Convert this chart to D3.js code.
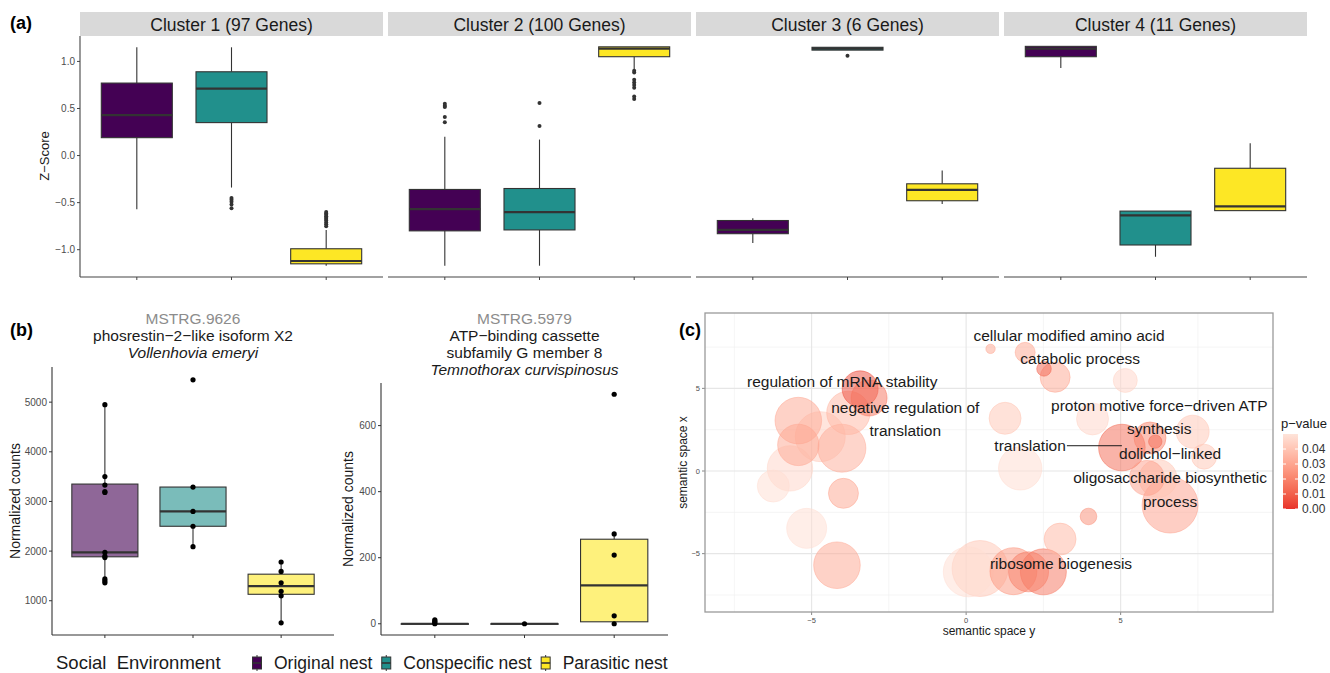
<!DOCTYPE html>
<html>
<head>
<meta charset="utf-8">
<script src="https://cdn.jsdelivr.net/npm/d3@7"></script>
<style>
  body { margin: 0; background: #fff; }
  svg { display: block; font-family: "Liberation Sans", Arial, sans-serif; }
</style>
</head>
<body>
<svg id="fig" width="1330" height="673"></svg>
<script>
// ---------- data ----------
const groups = ["Original nest", "Conspecific nest", "Parasitic nest"];
const groupColors = ["#440154", "#21908C", "#FDE725"];

// (a) z-score boxplots, five numbers per box: low whisker, q1, median, q3, high whisker
const clusterNames = ["Cluster 1 (97 Genes)", "Cluster 2 (100 Genes)", "Cluster 3 (6 Genes)", "Cluster 4 (11 Genes)"];
const clusterBoxes = [
  [[-0.57, 0.19, 0.43, 0.77, 1.15], [-0.34, 0.35, 0.71, 0.89, 1.15], [-1.17, -1.15, -1.12, -0.99, -0.79]],
  [[-1.17, -0.80, -0.57, -0.36, 0.20], [-1.17, -0.79, -0.60, -0.35, 0.17], [0.92, 1.05, 1.135, 1.155, 1.155]],
  [[-0.93, -0.83, -0.79, -0.69, -0.665], [1.12, 1.12, 1.135, 1.15, 1.15], [-0.515, -0.48, -0.365, -0.30, -0.16]],
  [[0.93, 1.05, 1.135, 1.16, 1.16], [-1.075, -0.95, -0.635, -0.59, -0.59], [-0.585, -0.585, -0.54, -0.135, 0.13]]
];
const clusterOutliers = [
  [[], [-0.45, -0.47, -0.49, -0.52, -0.56], [-0.60, -0.615, -0.63, -0.645, -0.66, -0.675, -0.69, -0.71, -0.73, -0.75]],
  [[0.55, 0.53, 0.515, 0.41, 0.355], [0.557, 0.313], [0.90, 0.883, 0.805, 0.777, 0.749, 0.72, 0.628, 0.60]],
  [[], [1.06], []],
  [[], [], []]
];
const zTicks = [-1.0, -0.5, 0.0, 0.5, 1.0];

// (b) normalized counts for two genes
const gene1Title = ["MSTRG.9626", "phosrestin\u22122\u2212like isoform X2", "Vollenhovia emeryi"];
const gene1Boxes = [[1360, 1885, 1975, 3350, 4950], [2090, 2500, 2800, 3290, 3290], [555, 1130, 1295, 1535, 1780]];
const gene1Points = [
  [4950, 3500, 3330, 3200, 3180, 1975, 1900, 1870, 1440, 1400, 1360],
  [5450, 3290, 2800, 2500, 2090],
  [1780, 1590, 1360, 1190, 1100, 555]
];
const gene1Ticks = [1000, 2000, 3000, 4000, 5000];

const gene2Title = ["MSTRG.5979", "ATP\u2212binding cassette", "subfamily G member 8", "Temnothorax curvispinosus"];
const gene2Boxes = [[0, 0, 0, 0, 0], [0, 0, 0, 0, 0], [0, 6, 116, 256, 272]];
const gene2Points = [[0, 4, 8, 12], [0], [695, 272, 208, 24, 0]];
const gene2Ticks = [0, 200, 400, 600];

// (c) GO term semantic space
const termX = [0.79, 1.91, 2.52, 2.88, 5.15, 1.26, 4.09, 5.04, 5.95, 6.12, 7.33, 7.70, 1.75, 5.85, 6.21, 6.60, 3.96, 3.04,
  2.50, 2.02, 1.53, 0.45, 0.07, -3.43, -3.14, -3.81, -5.43, -4.72, -5.43, -4.02, -5.70, -6.24, -3.97, -5.16, -4.18];
const termY = [7.39, 7.18, 6.18, 5.67, 5.48, 3.19, 3.15, 1.42, 2.00, 1.78, 2.38, 0.87, 0.16, -0.42, -0.45, -2.06, -2.75, -4.12,
  -6.10, -6.10, -6.06, -5.90, -6.10, 4.97, 4.42, 3.52, 3.05, 2.08, 1.58, 1.38, 0.16, -0.91, -1.35, -3.47, -5.70];
const termSize = [0.47, 1.0, 0.73, 1.5, 1.2, 1.6, 1.6, 2.33, 1.6, 0.67, 1.65, 1.25, 2.17, 1.75, 1.9, 2.8, 0.83, 1.6,
  2.3, 2.0, 2.35, 2.8, 2.5, 1.8, 1.8, 2.17, 2.33, 2.5, 2.07, 2.4, 2.27, 1.6, 1.5, 2.0, 2.33];
const termP = [0.030, 0.030, 0.010, 0.030, 0.045, 0.040, 0.045, 0.012, 0.020, 0.012, 0.040, 0.040, 0.047, 0.028, 0.040, 0.028, 0.022, 0.035,
  0.015, 0.018, 0.025, 0.040, 0.048, 0.004, 0.015, 0.035, 0.030, 0.042, 0.030, 0.032, 0.045, 0.048, 0.030, 0.048, 0.030];

const labelText = ["cellular modified amino acid", "catabolic process", "regulation of mRNA stability", "negative regulation of",
  "translation", "proton motive force\u2212driven ATP", "synthesis", "translation", "dolichol\u2212linked",
  "oligosaccharide biosynthetic", "process", "ribosome biogenesis"];
const labelX = [3.33, 3.69, -4.01, -1.97, -1.97, 6.25, 6.25, 2.07, 6.60, 6.60, 6.60, 3.07];
const labelY = [8.18, 6.79, 5.39, 3.82, 2.42, 3.94, 2.55, 1.52, 1.03, -0.42, -1.82, -5.58];
const leaderX = [3.26, 5.04];
const leaderY = [1.53, 1.53];
const semTicks = [-5, 0, 5];
const pTicks = [0.00, 0.01, 0.02, 0.03, 0.04];

// ---------- drawing ----------
const svg = d3.select("#fig");
const ink = "#333333";

function drawBox(g, cx, bw, ys, stats, fill, fillOp) {
  g.append("line").attr("x1", cx).attr("x2", cx).attr("y1", ys(stats[0])).attr("y2", ys(stats[1]))
    .attr("stroke", ink).attr("stroke-width", 1.1);
  g.append("line").attr("x1", cx).attr("x2", cx).attr("y1", ys(stats[3])).attr("y2", ys(stats[4]))
    .attr("stroke", ink).attr("stroke-width", 1.1);
  g.append("rect").attr("x", cx - bw / 2).attr("width", bw)
    .attr("y", ys(stats[3])).attr("height", Math.max(0.5, ys(stats[1]) - ys(stats[3])))
    .attr("fill", fill).attr("fill-opacity", fillOp).attr("stroke", ink).attr("stroke-width", 1.1);
  g.append("line").attr("x1", cx - bw / 2).attr("x2", cx + bw / 2).attr("y1", ys(stats[2])).attr("y2", ys(stats[2]))
    .attr("stroke", ink).attr("stroke-width", 2.2);
}

// panel labels
[["(a)", 10, 29], ["(b)", 10, 336], ["(c)", 679, 336]].forEach(function (d) {
  svg.append("text").attr("x", d[1]).attr("y", d[2]).text(d[0])
    .attr("font-size", 18).attr("font-weight", "bold").attr("fill", "#000");
});

// ----- (a) -----
const zY = d3.scaleLinear().domain([-1.29, 1.27]).range([277, 36]);
const clusterBand = d3.scaleBand().domain(clusterNames).range([80, 1307]).paddingInner(5 / 308);

clusterNames.forEach(function (name, ci) {
  const x0 = clusterBand(name), w = clusterBand.bandwidth();
  const g = svg.append("g").attr("transform", "translate(" + x0 + ",0)");
  g.append("rect").attr("x", 0).attr("y", 12).attr("width", w).attr("height", 24).attr("fill", "#d9d9d9");
  g.append("text").attr("x", w / 2).attr("y", 30.5).attr("text-anchor", "middle")
    .attr("font-size", 17.5).attr("fill", "#1a1a1a").text(name);

  const xg = d3.scalePoint().domain(groups).range([0, w]).padding(0.6);
  const bw = xg.step() * 0.75;

  g.append("line").attr("x1", 0).attr("x2", w).attr("y1", 277).attr("y2", 277).attr("stroke", "#444").attr("stroke-width", 1.1);
  groups.forEach(function (gr, i) {
    g.append("line").attr("x1", xg(gr)).attr("x2", xg(gr)).attr("y1", 277).attr("y2", 280).attr("stroke", "#444");
    drawBox(g, xg(gr), bw, zY, clusterBoxes[ci][i], groupColors[i], 1);
    g.selectAll(null).data(clusterOutliers[ci][i]).enter().append("circle")
      .attr("cx", xg(gr)).attr("cy", d => zY(d)).attr("r", 2).attr("fill", ink);
  });
});
// z-score left axis
svg.append("line").attr("x1", 80).attr("x2", 80).attr("y1", 36).attr("y2", 277).attr("stroke", "#444").attr("stroke-width", 1.1);
zTicks.forEach(function (t) {
  svg.append("line").attr("x1", 77).attr("x2", 80).attr("y1", zY(t)).attr("y2", zY(t)).attr("stroke", "#444");
  svg.append("text").attr("x", 75).attr("y", zY(t)).attr("dy", "0.35em").attr("text-anchor", "end")
    .attr("font-size", 10).attr("fill", "#4d4d4d").text(d3.format(".1f")(t).replace("-", "\u2212"));
});
svg.append("text").attr("transform", "translate(49,156) rotate(-90)").attr("text-anchor", "middle")
  .attr("font-size", 13).attr("fill", "#1a1a1a").text("Z\u2212Score");

// ----- (b) -----
function genePanel(x0, x1, yTop, yBot, yDomain, title, titleY, boxes, points, ticks, labelXpos) {
  const ys = d3.scaleLinear().domain(yDomain).range([yBot, yTop]);
  const xg = d3.scalePoint().domain(groups).range([x0, x1]).padding(0.6);
  const bw = xg.step() * 0.75;
  const g = svg.append("g");
  title.forEach(function (t, i) {
    g.append("text").attr("x", (x0 + x1) / 2).attr("y", titleY + i * 17).attr("text-anchor", "middle")
      .attr("font-size", 15.5)
      .attr("fill", i === 0 ? "#8c8c8c" : "#1a1a1a")
      .attr("font-style", i === title.length - 1 ? "italic" : "normal").text(t);
  });
  groups.forEach(function (gr, i) {
    drawBox(g, xg(gr), bw, ys, boxes[i], groupColors[i], 0.6);
    g.selectAll(null).data(points[i]).enter().append("circle")
      .attr("cx", xg(gr)).attr("cy", d => ys(d)).attr("r", 2.6).attr("fill", "#000");
    g.append("line").attr("x1", xg(gr)).attr("x2", xg(gr)).attr("y1", yBot).attr("y2", yBot + 3).attr("stroke", ink);
  });
  g.append("line").attr("x1", x0).attr("x2", x0).attr("y1", yTop).attr("y2", yBot).attr("stroke", ink).attr("stroke-width", 1.1);
  g.append("line").attr("x1", x0).attr("x2", x1).attr("y1", yBot).attr("y2", yBot).attr("stroke", ink).attr("stroke-width", 1.1);
  ticks.forEach(function (t) {
    g.append("line").attr("x1", x0 - 3).attr("x2", x0).attr("y1", ys(t)).attr("y2", ys(t)).attr("stroke", ink);
    g.append("text").attr("x", x0 - 5).attr("y", ys(t)).attr("dy", "0.35em").attr("text-anchor", "end")
      .attr("font-size", 10).attr("fill", "#4d4d4d").text(t);
  });
  g.append("text").attr("transform", "translate(" + labelXpos + "," + ((yTop + yBot) / 2) + ") rotate(-90)")
    .attr("text-anchor", "middle").attr("font-size", 14).attr("fill", "#1a1a1a").text("Normalized counts");
}
genePanel(52, 334, 367, 635, [310, 5708], gene1Title, 324, gene1Boxes, gene1Points, gene1Ticks, 20);
genePanel(381, 668, 383, 635, [-34, 729], gene2Title, 324, gene2Boxes, gene2Points, gene2Ticks, 353);

// bottom legend
const leg = svg.append("g");
leg.append("text").attr("x", 56).attr("y", 669).attr("font-size", 18.5).attr("fill", "#1a1a1a")
  .style("white-space", "pre").text("Social  Environment");
let lx = 252;
groups.forEach(function (gr, i) {
  const k = leg.append("g").attr("transform", "translate(" + (lx + 5) + ",663)");
  k.append("line").attr("y1", -8).attr("y2", 8).attr("stroke", ink).attr("stroke-width", 1);
  k.append("rect").attr("x", -4.5).attr("y", -6).attr("width", 9).attr("height", 12)
    .attr("fill", groupColors[i]).attr("stroke", ink).attr("stroke-width", 1);
  k.append("line").attr("x1", -4.5).attr("x2", 4.5).attr("stroke", ink).attr("stroke-width", 1.6);
  const t = leg.append("text").attr("x", lx + 22).attr("y", 669).attr("font-size", 17.5).attr("fill", "#1a1a1a").text(gr);
  lx = lx + 22 + t.node().getComputedTextLength() + 9;
});

// ----- (c) -----
const cx0 = 705, cx1 = 1273, cy0 = 313, cy1 = 612;
const sx = d3.scaleLinear().domain([-8.45, 9.93]).range([cx0, cx1]);
const sy = d3.scaleLinear().domain([-8.53, 9.56]).range([cy1, cy0]);
const rScale = d3.scaleLinear().domain([0, 3]).range([0, 30]);
const pColor = d3.scaleLinear().domain([0, 0.05]).range(["#e8322a", "#fee4da"]).interpolate(d3.interpolateLab);

const gc = svg.append("g");
gc.append("rect").attr("x", cx0).attr("y", cy0).attr("width", cx1 - cx0).attr("height", cy1 - cy0).attr("fill", "#fff");
const minorX = [-7.5, -2.5, 2.5, 7.5], minorY = [-7.5, -2.5, 2.5, 7.5];
minorX.forEach(v => gc.append("line").attr("x1", sx(v)).attr("x2", sx(v)).attr("y1", cy0).attr("y2", cy1).attr("stroke", "#f0f0f0").attr("stroke-width", 0.7));
minorY.forEach(v => gc.append("line").attr("y1", sy(v)).attr("y2", sy(v)).attr("x1", cx0).attr("x2", cx1).attr("stroke", "#f0f0f0").attr("stroke-width", 0.7));
semTicks.forEach(v => {
  gc.append("line").attr("x1", sx(v)).attr("x2", sx(v)).attr("y1", cy0).attr("y2", cy1).attr("stroke", "#e6e6e6").attr("stroke-width", 1.1);
  gc.append("line").attr("y1", sy(v)).attr("y2", sy(v)).attr("x1", cx0).attr("x2", cx1).attr("stroke", "#e6e6e6").attr("stroke-width", 1.1);
  gc.append("line").attr("x1", sx(v)).attr("x2", sx(v)).attr("y1", cy1).attr("y2", cy1 + 3).attr("stroke", "#888");
  gc.append("line").attr("x1", cx0 - 3).attr("x2", cx0).attr("y1", sy(v)).attr("y2", sy(v)).attr("stroke", "#888");
  gc.append("text").attr("x", sx(v)).attr("y", cy1 + 11).attr("text-anchor", "middle").attr("font-size", 7.5)
    .attr("fill", "#4d4d4d").text(String(v).replace("-", "\u2212"));
  gc.append("text").attr("x", cx0 - 5).attr("y", sy(v)).attr("dy", "0.35em").attr("text-anchor", "end").attr("font-size", 7.5)
    .attr("fill", "#4d4d4d").text(String(v).replace("-", "\u2212"));
});

const terms = termX.map((x, i) => ({ x: x, y: termY[i], s: termSize[i], p: termP[i] }))
  .sort((a, b) => b.s - a.s);
gc.selectAll("circle.term").data(terms).enter().append("circle").attr("class", "term")
  .attr("cx", d => sx(d.x)).attr("cy", d => sy(d.y)).attr("r", d => rScale(d.s))
  .attr("fill", d => pColor(d.p)).attr("fill-opacity", 0.5)
  .attr("stroke", d => pColor(d.p)).attr("stroke-opacity", 0.8).attr("stroke-width", 0.6);

gc.append("line").attr("x1", sx(leaderX[0])).attr("x2", sx(leaderX[1])).attr("y1", sy(leaderY[0])).attr("y2", sy(leaderY[1]))
  .attr("stroke", "#1a1a1a").attr("stroke-width", 1);
labelText.forEach(function (t, i) {
  gc.append("text").attr("x", sx(labelX[i])).attr("y", sy(labelY[i])).attr("dy", "0.35em").attr("text-anchor", "middle")
    .attr("font-size", 15.5).attr("fill", "#1a1a1a").text(t);
});
gc.append("rect").attr("x", cx0).attr("y", cy0).attr("width", cx1 - cx0).attr("height", cy1 - cy0)
  .attr("fill", "none").attr("stroke", "#9a9a9a").attr("stroke-width", 1.3);

gc.append("text").attr("x", (cx0 + cx1) / 2).attr("y", 635).attr("text-anchor", "middle").attr("font-size", 12)
  .attr("fill", "#1a1a1a").text("semantic space y");
gc.append("text").attr("transform", "translate(687," + ((cy0 + cy1) / 2) + ") rotate(-90)").attr("text-anchor", "middle")
  .attr("font-size", 12).attr("fill", "#1a1a1a").text("semantic space x");

// colour bar (kept inside the page edge)
const barY = d3.scaleLinear().domain([0, 0.05]).range([509, 434]);
const defs = svg.append("defs");
const grad = defs.append("linearGradient").attr("id", "pgrad").attr("x1", 0).attr("x2", 0).attr("y1", 1).attr("y2", 0);
d3.range(0, 1.001, 0.1).forEach(f => grad.append("stop").attr("offset", f).attr("stop-color", pColor(f * 0.05)));
gc.append("text").attr("x", 1281).attr("y", 428).attr("font-size", 13).attr("fill", "#1a1a1a").text("p\u2212value");
gc.append("rect").attr("x", 1283).attr("y", barY(0.05)).attr("width", 15).attr("height", barY(0) - barY(0.05)).attr("fill", "url(#pgrad)");
pTicks.forEach(function (t) {
  gc.append("line").attr("x1", 1283).attr("x2", 1286).attr("y1", barY(t)).attr("y2", barY(t)).attr("stroke", "#fff");
  gc.append("line").attr("x1", 1295).attr("x2", 1298).attr("y1", barY(t)).attr("y2", barY(t)).attr("stroke", "#fff");
  gc.append("text").attr("x", 1302).attr("y", barY(t)).attr("dy", "0.35em").attr("font-size", 12).attr("fill", "#333")
    .text(d3.format(".2f")(t));
});
</script>
</body>
</html>
